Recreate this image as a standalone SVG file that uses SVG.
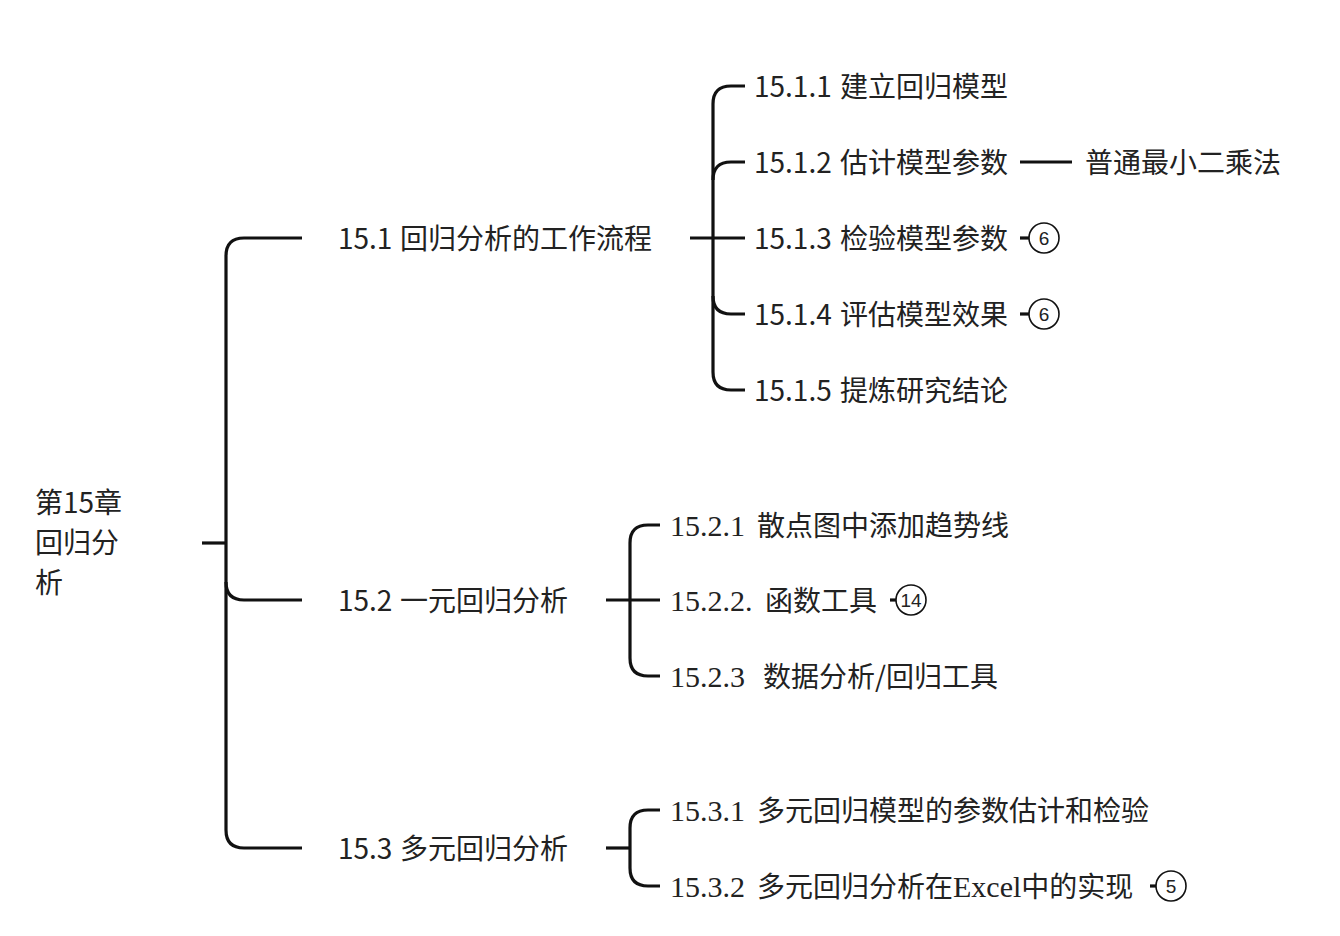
<svg xmlns="http://www.w3.org/2000/svg" width="1340" height="936" viewBox="0 0 1340 936">
<style>
.t{font-family:"Noto Sans CJK SC","Noto Sans",sans-serif;font-size:28px;fill:#222}
.s{font-family:"Liberation Serif","Noto Sans CJK SC",serif;font-size:30px}
.c{fill:none;stroke:#111;stroke-width:3.2}
.b{fill:#fff;stroke:#111;stroke-width:1.6}
.bn{font-family:"Liberation Sans",sans-serif;font-size:19px;fill:#222;text-anchor:middle}
</style>
<rect width="1340" height="936" fill="#fff"/>
<g id="connectors">
<path class="c" d="M202 543H226"/>
<path class="c" d="M302 238H244Q226 238 226 256V830Q226 848 244 848H302"/>
<path class="c" d="M226 582Q226 600 244 600H302"/>
<path class="c" d="M690 238H745"/>
<path class="c" d="M745 86H731Q713 86 713 104V372Q713 390 731 390H745"/>
<path class="c" d="M713 180Q713 162 731 162H745"/>
<path class="c" d="M713 296Q713 314 731 314H745"/>
<path class="c" d="M1020 162H1072"/>
<path class="c" d="M1020 238H1029"/>
<path class="c" d="M1020 314H1029"/>
<path class="c" d="M606 600H660"/>
<path class="c" d="M660 525H648Q630 525 630 543V658Q630 676 648 676H660"/>
<path class="c" d="M606 848H630"/>
<path class="c" d="M660 810H648Q630 810 630 828V868Q630 886 648 886H660"/>
<path class="c" d="M890 600H896"/>
<path class="c" d="M1150 886H1156"/>
</g>
<g id="root"><text class="t" x="35" y="513">第15章</text><text class="t" x="35" y="553">回归分</text><text class="t" x="35" y="593">析</text></g>
<g id="n15_1"><text class="t" x="338" y="249">15.1 <tspan x="400">回归分析的工作流程</tspan></text></g>
<g id="n15_1_1"><text class="t" x="754" y="97">15.1.1 <tspan x="840">建立回归模型</tspan></text></g>
<g id="n15_1_2"><text class="t" x="754" y="173">15.1.2 <tspan x="840">估计模型参数</tspan></text></g>
<g id="n_ols"><text class="t" x="1085" y="173">普通最小二乘法</text></g>
<g id="n15_1_3"><text class="t" x="754" y="249">15.1.3 <tspan x="840">检验模型参数</tspan></text><circle class="b" cx="1044" cy="238" r="15"/><text class="bn" x="1044" y="245">6</text></g>
<g id="n15_1_4"><text class="t" x="754" y="325">15.1.4 <tspan x="840">评估模型效果</tspan></text><circle class="b" cx="1044" cy="314" r="15"/><text class="bn" x="1044" y="321">6</text></g>
<g id="n15_1_5"><text class="t" x="754" y="401">15.1.5 <tspan x="840">提炼研究结论</tspan></text></g>
<g id="n15_2"><text class="t" x="338" y="611">15.2 <tspan x="400">一元回归分析</tspan></text></g>
<g id="n15_2_1"><text class="t" x="670" y="536"><tspan class="s">15.2.1</tspan> <tspan x="757">散点图中添加趋势线</tspan></text></g>
<g id="n15_2_2"><text class="t" x="670" y="611"><tspan class="s">15.2.2.</tspan> <tspan x="765">函数工具</tspan></text><circle class="b" cx="911" cy="600" r="15"/><text class="bn" x="911" y="607">14</text></g>
<g id="n15_2_3"><text class="t" x="670" y="687"><tspan class="s">15.2.3</tspan> <tspan x="763">数据分析/回归工具</tspan></text></g>
<g id="n15_3"><text class="t" x="338" y="859">15.3 <tspan x="400">多元回归分析</tspan></text></g>
<g id="n15_3_1"><text class="t" x="670" y="821"><tspan class="s">15.3.1</tspan> <tspan x="757">多元回归模型的参数估计和检验</tspan></text></g>
<g id="n15_3_2"><text class="t" x="670" y="897"><tspan class="s">15.3.2</tspan> <tspan x="757">多元回归分析在<tspan class="s">Excel</tspan>中的实现</tspan></text><circle class="b" cx="1171" cy="886" r="15"/><text class="bn" x="1171" y="893">5</text></g>
</svg>
